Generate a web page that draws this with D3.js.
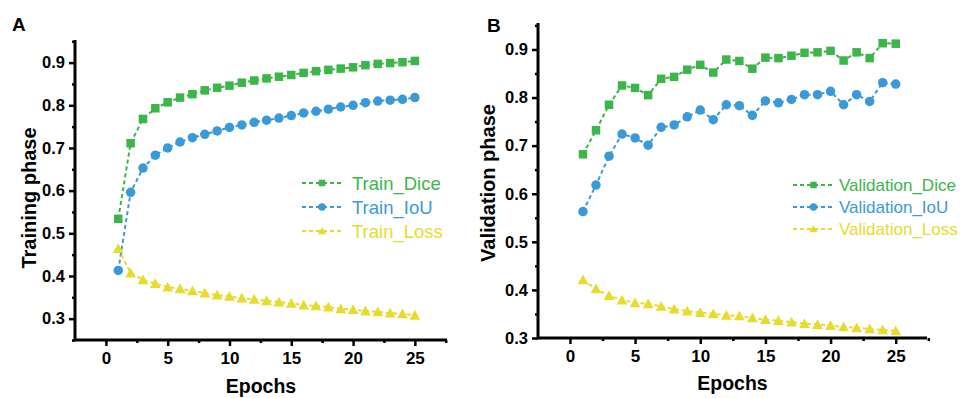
<!DOCTYPE html>
<html>
<head>
<meta charset="utf-8">
<script src="https://cdn.jsdelivr.net/npm/d3@7"></script>
<style>
  body { margin: 0; background: #fff; }
  svg { display: block; font-family: Arial, 'Liberation Sans', sans-serif; }
</style>
</head>
<body>
<svg id="chart" width="964" height="398"></svg>
<script>
const epochs = d3.range(1, 26);

const trainDice = [0.534, 0.711, 0.768, 0.793, 0.807, 0.818, 0.826, 0.835, 0.841, 0.846,
  0.853, 0.858, 0.863, 0.867, 0.871, 0.876, 0.880, 0.883, 0.886, 0.889,
  0.894, 0.897, 0.899, 0.901, 0.904];
const trainIoU = [0.413, 0.596, 0.653, 0.683, 0.700, 0.714, 0.724, 0.732, 0.740, 0.748,
  0.754, 0.760, 0.765, 0.770, 0.776, 0.782, 0.786, 0.791, 0.796, 0.800,
  0.806, 0.810, 0.812, 0.814, 0.818];
const trainLoss = [0.464, 0.407, 0.391, 0.382, 0.374, 0.370, 0.365, 0.360, 0.355, 0.352,
  0.348, 0.345, 0.342, 0.339, 0.336, 0.332, 0.330, 0.327, 0.323, 0.321,
  0.318, 0.316, 0.313, 0.311, 0.308];

const valDice = [0.682, 0.732, 0.785, 0.825, 0.820, 0.805, 0.839, 0.843, 0.858, 0.868,
  0.852, 0.879, 0.876, 0.860, 0.883, 0.882, 0.887, 0.893, 0.894, 0.897,
  0.877, 0.894, 0.882, 0.913, 0.912];
const valIoU = [0.563, 0.618, 0.678, 0.724, 0.716, 0.701, 0.738, 0.743, 0.760, 0.774,
  0.754, 0.785, 0.783, 0.763, 0.793, 0.789, 0.796, 0.806, 0.806, 0.813,
  0.785, 0.806, 0.792, 0.831, 0.828];
const valLoss = [0.421, 0.402, 0.388, 0.379, 0.373, 0.371, 0.366, 0.360, 0.356, 0.353,
  0.350, 0.347, 0.346, 0.342, 0.338, 0.336, 0.333, 0.330, 0.328, 0.326,
  0.323, 0.321, 0.319, 0.317, 0.315];

const xTicks = [0, 5, 10, 15, 20, 25];
const yTicks = [0.3, 0.4, 0.5, 0.6, 0.7, 0.8, 0.9];

const colors = { dice: '#3cb54a', iou: '#3a9ad9', loss: '#e6dc2e' };

const panels = [
  {
    letter: 'A', letterPos: [12, 31],
    xDomain: [-2.5, 27.6], xRange: [75, 447],
    yDomain: [0.25, 0.953], yRange: [340, 40],
    yTitle: 'Training phase', yTitlePos: [36, 198], xTitleY: 393,
    legend: { x1: 302, x2: 342, tx: 352, ys: [183, 207, 231], fontSize: 18.5 },
    series: [
      { name: 'Train_Dice', values: trainDice, color: colors.dice, marker: 'square' },
      { name: 'Train_IoU', values: trainIoU, color: colors.iou, marker: 'circle' },
      { name: 'Train_Loss', values: trainLoss, color: colors.loss, marker: 'triangle' },
    ],
  },
  {
    letter: 'B', letterPos: [487, 32],
    xDomain: [-2.45, 27.4], xRange: [538, 927],
    yDomain: [0.3, 0.955], yRange: [338, 23],
    yTitle: 'Validation phase', yTitlePos: [495, 183], xTitleY: 390,
    legend: { x1: 793, x2: 834, tx: 839, ys: [185, 207, 229], fontSize: 17 },
    series: [
      { name: 'Validation_Dice', values: valDice, color: colors.dice, marker: 'square' },
      { name: 'Validation_IoU', values: valIoU, color: colors.iou, marker: 'circle' },
      { name: 'Validation_Loss', values: valLoss, color: colors.loss, marker: 'triangle' },
    ],
  },
];

const svg = d3.select('#chart');

function drawMarker(g, type, x, y, color, size) {
  if (type === 'square') {
    g.append('rect')
      .attr('x', x - size / 2).attr('y', y - size / 2)
      .attr('width', size).attr('height', size)
      .attr('fill', color);
  } else if (type === 'circle') {
    g.append('circle')
      .attr('cx', x).attr('cy', y).attr('r', size / 2 + 0.5)
      .attr('fill', color);
  } else {
    const s = size * 1.15;
    g.append('path')
      .attr('d', `M${x},${y - s * 0.55} L${x + s * 0.55},${y + s * 0.45} L${x - s * 0.55},${y + s * 0.45} Z`)
      .attr('fill', color);
  }
}

panels.forEach((p) => {
  const x = d3.scaleLinear().domain(p.xDomain).range(p.xRange);
  const y = d3.scaleLinear().domain(p.yDomain).range(p.yRange);
  const g = svg.append('g');

  // panel letter
  g.append('text')
    .attr('x', p.letterPos[0]).attr('y', p.letterPos[1])
    .attr('font-size', 19).attr('font-weight', 'bold')
    .text(p.letter);

  // x axis
  const xMinor = d3.range(0, 27.6, 2.5).filter((v) => !xTicks.includes(v));
  const xAxis = g.append('g').attr('transform', `translate(0,${p.yRange[0]})`);
  xAxis.call(d3.axisBottom(x).tickValues(xMinor).tickSize(3).tickFormat(''));
  xAxis.call((s) => s.select('.domain').remove());
  const xMajor = g.append('g').attr('transform', `translate(0,${p.yRange[0]})`)
    .call(d3.axisBottom(x).tickValues(xTicks).tickSize(6).tickPadding(6).tickSizeOuter(0));
  xMajor.select('.domain').remove();
  xMajor.selectAll('text')
    .attr('font-size', 17).attr('font-weight', 'bold')
    .attr('font-family', 'Arial, Liberation Sans, sans-serif').attr('fill', '#000');

  // y axis
  const yMinor = [0.25, 0.35, 0.45, 0.55, 0.65, 0.75, 0.85, 0.95]
    .filter((v) => v >= p.yDomain[0] && v <= p.yDomain[1]);
  const yMin = g.append('g').attr('transform', `translate(${p.xRange[0]},0)`)
    .call(d3.axisLeft(y).tickValues(yMinor).tickSize(3).tickFormat(''));
  yMin.select('.domain').remove();
  const yMaj = g.append('g').attr('transform', `translate(${p.xRange[0]},0)`)
    .call(d3.axisLeft(y).tickValues(yTicks).tickSize(6).tickPadding(4).tickFormat(d3.format('.1f')));
  yMaj.select('.domain').remove();
  yMaj.selectAll('text')
    .attr('font-size', 16.5).attr('font-weight', 'bold')
    .attr('font-family', 'Arial, Liberation Sans, sans-serif').attr('fill', '#000');

  g.selectAll('.tick line').attr('stroke', '#000').attr('stroke-width', 2.5);

  // axis lines
  g.append('path')
    .attr('d', `M${p.xRange[0]},${p.yRange[1]} V${p.yRange[0]} H${p.xRange[1]}`)
    .attr('fill', 'none').attr('stroke', '#000').attr('stroke-width', 3);

  // axis titles
  g.append('text')
    .attr('x', (p.xRange[0] + p.xRange[1]) / 2).attr('y', p.xTitleY)
    .attr('text-anchor', 'middle')
    .attr('font-size', 19.5).attr('font-weight', 'bold')
    .text('Epochs');
  g.append('text')
    .attr('transform', `translate(${p.yTitlePos[0]},${p.yTitlePos[1]}) rotate(-90)`)
    .attr('text-anchor', 'middle')
    .attr('font-size', 20).attr('font-weight', 'bold')
    .text(p.yTitle);

  // series
  p.series.forEach((s) => {
    const line = d3.line().x((d, i) => x(epochs[i])).y((d) => y(d));
    g.append('path')
      .datum(s.values)
      .attr('d', line)
      .attr('fill', 'none')
      .attr('stroke', s.color)
      .attr('stroke-width', 2)
      .attr('stroke-dasharray', '4,3');
    const mg = g.append('g');
    s.values.forEach((v, i) => drawMarker(mg, s.marker, x(epochs[i]), y(v), s.color, 8.5));
  });

  // legend
  p.series.forEach((s, i) => {
    const ly = p.legend.ys[i];
    g.append('line')
      .attr('x1', p.legend.x1).attr('x2', p.legend.x2)
      .attr('y1', ly).attr('y2', ly)
      .attr('stroke', s.color).attr('stroke-width', 2)
      .attr('stroke-dasharray', '4,3');
    drawMarker(g, s.marker, (p.legend.x1 + p.legend.x2) / 2, ly, s.color, 6.5);
    g.append('text')
      .attr('x', p.legend.tx).attr('y', ly)
      .attr('dy', '0.36em')
      .attr('font-size', p.legend.fontSize)
      .attr('fill', s.color)
      .text(s.name);
  });
});
</script>
</body>
</html>
